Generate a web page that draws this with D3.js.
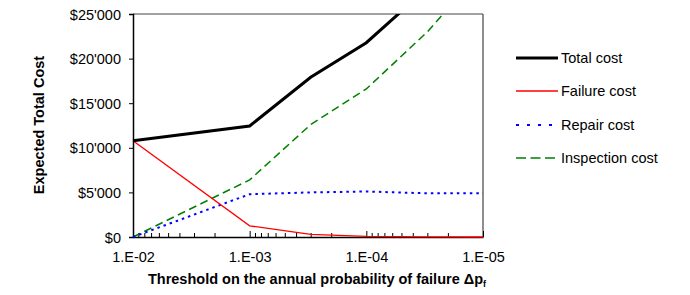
<!DOCTYPE html>
<html>
<head>
<meta charset="utf-8">
<script src="https://cdn.jsdelivr.net/npm/d3@7"></script>
<style>
  html, body { margin: 0; padding: 0; background: #fff; }
  svg { display: block; font-family: Arial, "Liberation Sans", sans-serif; }
</style>
</head>
<body>
<svg id="chart" width="690" height="295"></svg>
<script>
// Data
const thresholds = [1e-2, 1e-3, 3e-4, 1e-4, 3e-5, 1e-5];
const totalCost = [10800, 12450, 17900, 21780, 27910, 34900];
const failureCost = [10800, 1250, 300, 60, 10, 0];
const repairCost = [0, 4800, 5000, 5100, 4900, 4900];
const inspectionCost = [0, 6400, 12600, 16600, 23000, 30000];
const xTickValues = [1e-2, 1e-3, 1e-4, 1e-5];
const xTickLabels = ["1.E-02", "1.E-03", "1.E-04", "1.E-05"];
const yTickValues = [0, 5000, 10000, 15000, 20000, 25000];
const yTickLabels = ["$0", "$5'000", "$10'000", "$15'000", "$20'000", "$25'000"];
const seriesNames = ["Total cost", "Failure cost", "Repair cost", "Inspection cost"];

const series = [
  { name: seriesNames[0], values: totalCost, color: "#000000", width: 3, dash: null, legDash: null },
  { name: seriesNames[1], values: failureCost, color: "#ff0000", width: 1.3, dash: null, legDash: null },
  { name: seriesNames[2], values: repairCost, color: "#0000ff", width: 2, dash: "2.5,4", legDash: "3,8" },
  { name: seriesNames[3], values: inspectionCost, color: "#008000", width: 1.5, dash: "8,4.5", legDash: "10,4.5" }
];

const FS = 14.5;
const svg = d3.select("#chart");
const L = 133, R = 483, T = 14, B = 237;

const x = d3.scaleLog().domain([1e-2, 1e-5]).range([L, R]);
const y = d3.scaleLinear().domain([0, 25000]).range([B, T]);

svg.append("defs").append("clipPath").attr("id", "clip")
  .append("rect").attr("x", L - 2).attr("y", T).attr("width", R - L + 2).attr("height", B - T + 2);

// Frame (top/right)
svg.append("line").attr("x1", L).attr("x2", R).attr("y1", T).attr("y2", T)
  .attr("stroke", "#444").attr("stroke-width", 1.2);
svg.append("line").attr("x1", R).attr("x2", R).attr("y1", T).attr("y2", B)
  .attr("stroke", "#444").attr("stroke-width", 1.2);

// Y axis
const yAxis = d3.axisLeft(y).tickValues(yTickValues)
  .tickFormat((d, i) => yTickLabels[i]).tickSizeOuter(0).tickSize(4).tickPadding(8);
const yg = svg.append("g").attr("transform", `translate(${L},0)`).call(yAxis);
yg.select(".domain").attr("stroke", "#000").attr("stroke-width", 1.5);
yg.selectAll(".tick line").attr("stroke", "#000");
yg.selectAll(".tick text").attr("font-size", FS).attr("font-family", "Arial, 'Liberation Sans', sans-serif")
  .attr("fill", "#000").attr("dy", "0.35em");

// X axis minor ticks (inward)
const minor = [];
for (let e = -3; e >= -5; e--) {
  for (let m = 2; m <= 9; m++) minor.push(m * Math.pow(10, e));
}
const xMinor = d3.axisBottom(x).tickValues(minor).tickSize(-4).tickFormat("");
const xmg = svg.append("g").attr("transform", `translate(0,${B})`).call(xMinor);
xmg.select(".domain").remove();
xmg.selectAll(".tick line").attr("stroke", "#000");

const xAxis = d3.axisBottom(x).tickValues(xTickValues)
  .tickFormat((d, i) => xTickLabels[i]).tickSizeOuter(0).tickSizeInner(-6).tickPadding(15);
const xg = svg.append("g").attr("transform", `translate(0,${B})`).call(xAxis);
xg.select(".domain").attr("stroke", "#000").attr("stroke-width", 1.5);
xg.selectAll(".tick line").attr("stroke", "#000");
xg.selectAll(".tick text").attr("font-size", FS).attr("font-family", "Arial, 'Liberation Sans', sans-serif")
  .attr("fill", "#000").attr("y", 25).attr("dy", "0");

// Lines (drawn over axes)
const line = d3.line().x((d, i) => x(thresholds[i])).y(d => y(d));
const g = svg.append("g").attr("clip-path", "url(#clip)");
series.slice().reverse().forEach(s => {
  g.append("path").datum(s.values)
    .attr("d", line)
    .attr("fill", "none")
    .attr("stroke", s.color)
    .attr("stroke-width", s.width)
    .attr("stroke-dasharray", s.dash)
    .attr("stroke-linejoin", "miter");
});

// Axis titles
svg.append("text")
  .attr("transform", "translate(44,125) rotate(-90)")
  .attr("text-anchor", "middle")
  .attr("font-size", FS).attr("font-weight", "bold")
  .text("Expected Total Cost");

const xt = svg.append("text")
  .attr("x", 317).attr("y", 284)
  .attr("text-anchor", "middle")
  .attr("font-size", FS).attr("font-weight", "bold");
xt.append("tspan").text("Threshold on the annual probability of failure \u0394p");
xt.append("tspan").attr("font-size", 9).attr("dy", 3).text("f");

// Legend
const legendY = [58, 91, 125, 158];
const lg = svg.append("g");
series.forEach((s, i) => {
  lg.append("line")
    .attr("x1", 516).attr("x2", 558)
    .attr("y1", legendY[i]).attr("y2", legendY[i])
    .attr("stroke", s.color).attr("stroke-width", s.width)
    .attr("stroke-dasharray", s.legDash);
  lg.append("text")
    .attr("x", 561).attr("y", legendY[i] + 5)
    .attr("font-size", FS).attr("fill", "#000")
    .text(s.name);
});
</script>
</body>
</html>
